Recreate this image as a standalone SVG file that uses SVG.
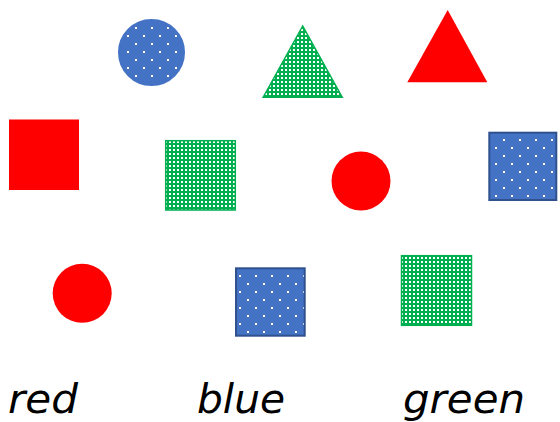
<svg xmlns="http://www.w3.org/2000/svg" width="560" height="422" viewBox="0 0 560 422">
  <defs>
    <pattern id="blueDots" patternUnits="userSpaceOnUse" x="-1" y="3" width="16" height="16">
      <rect x="0" y="0" width="16" height="16" fill="#4472C4"/>
      <rect x="0" y="0" width="2" height="2" fill="#FFFFFF"/>
      <rect x="8" y="8" width="2" height="2" fill="#FFFFFF"/>
    </pattern>
    <pattern id="greenGrid" patternUnits="userSpaceOnUse" x="0" y="0" width="4" height="4">
      <rect x="0" y="0" width="4" height="4" fill="#00B050"/>
      <rect x="1" y="1" width="2" height="2" fill="#FFFFFF"/>
    </pattern>
  </defs>
  <style>
    .red { fill: #FF0000; }
    .blue { fill: url(#blueDots); stroke: #4472C4; stroke-width: 3; }
    .blueBox { fill: url(#blueDots); stroke: #2F528F; stroke-width: 2; }
    .green { fill: url(#greenGrid); stroke: #00B050; stroke-width: 1.5; }
    .label { font-family: "DejaVu Sans", sans-serif; font-style: italic; font-size: 41px; fill: #000000; }
  </style>
  <rect width="560" height="422" fill="#FFFFFF"/>

  <g id="blue-circle"><circle class="blue" cx="151.5" cy="52.5" r="32"/></g>
  <g id="green-triangle"><polygon class="green" points="302.7,26 263.2,97.2 342.2,97.2"/></g>
  <g id="red-triangle"><polygon class="red" points="447.7,10 407.3,82.3 487.3,82.3"/></g>

  <g id="red-square"><rect class="red" x="9" y="119.5" width="70" height="70.5"/></g>
  <g id="green-square-1"><rect class="green" x="165.7" y="140.7" width="69.6" height="69.3"/></g>
  <g id="red-circle-1"><circle class="red" cx="361" cy="181" r="29.5"/></g>
  <g id="blue-square-1"><rect class="blueBox" x="489.3" y="132.7" width="67" height="67.3"/></g>

  <g id="red-circle-2"><circle class="red" cx="82.2" cy="293.3" r="29.5"/></g>
  <g id="blue-square-2"><rect class="blueBox" x="236" y="268.3" width="68.7" height="67.4"/></g>
  <g id="green-square-2"><rect class="green" x="401.5" y="255.7" width="70" height="69.6"/></g>

  <g id="labels">
    <text class="label" x="8" y="413" textLength="70" lengthAdjust="spacingAndGlyphs">red</text>
    <text class="label" x="197" y="413" textLength="88" lengthAdjust="spacingAndGlyphs">blue</text>
    <text class="label" x="403" y="413" textLength="122" lengthAdjust="spacingAndGlyphs">green</text>
  </g>
</svg>
